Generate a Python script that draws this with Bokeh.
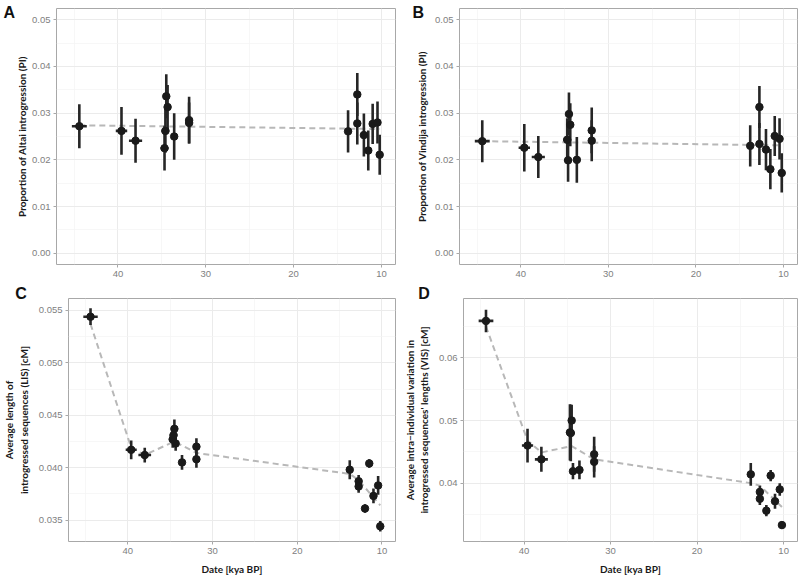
import numpy as np
from bokeh.plotting import figure
from bokeh.models import (Range1d, FixedTicker, PrintfTickFormatter, Label,
                          ColumnDataSource)
from bokeh.layouts import column, row
from bokeh.embed import file_html
from bokeh.resources import INLINE

# ---------------- data ----------------
dates = [44.4, 39.6, 38.0, 34.7, 34.6, 34.5, 34.35, 33.6, 31.9, 31.9,
         13.8, 12.75, 12.75, 12.0, 11.5, 11.0, 10.45, 10.2]
date_err = [0.85, 0.65, 0.75, 0.45, 0.45, 0.1, 0.1, 0.1, 0.1, 0.1,
            0.1, 0.1, 0.1, 0.1, 0.1, 0.1, 0.1, 0.1]

pi_altai = [0.0272, 0.0262, 0.0241, 0.0225, 0.0262, 0.0336, 0.0313, 0.0250,
            0.0285, 0.0279, 0.0261, 0.0340, 0.0278, 0.0253, 0.0220, 0.0277,
            0.0280, 0.0211]
pi_altai_err = [0.0047, 0.0051, 0.0047, 0.0048, 0.0047, 0.0047, 0.0047, 0.0050,
                0.0050, 0.0044, 0.0045, 0.0046, 0.0045, 0.0046, 0.0043, 0.0043,
                0.0045, 0.0043]

pi_vindija = [0.0240, 0.0226, 0.0206, 0.0243, 0.0199, 0.0298, 0.0275, 0.0200,
              0.0263, 0.0241, 0.0230, 0.0313, 0.0234, 0.0222, 0.0180, 0.0251,
              0.0245, 0.0172]
pi_vindija_err = [0.0045, 0.0051, 0.0045, 0.0046, 0.0046, 0.0046, 0.0046, 0.0049,
                  0.0049, 0.0044, 0.0044, 0.0045, 0.0045, 0.0044, 0.0043, 0.0043,
                  0.0044, 0.0042]

lis = [0.0544, 0.0417, 0.0412, 0.0427, 0.0431, 0.0437, 0.0423, 0.0405, 0.0420,
       0.0408, 0.0398, 0.0387, 0.0382, 0.0361, 0.0404, 0.0373, 0.0383, 0.0344]
lis_err = [0.0008, 0.0009, 0.0007, 0.0008, 0.0008, 0.0009, 0.0007, 0.0007,
           0.0008, 0.0008, 0.0009, 0.0006, 0.0006, 0.0004, 0.0004, 0.0007,
           0.0009, 0.0005]

vis = [0.0659, 0.0460, 0.0438, 0.0481, 0.0480, 0.0500, 0.0419, 0.0421, 0.0446,
       0.0434, 0.0414, 0.0386, 0.0375, 0.0356, 0.0412, 0.0371, 0.0390, 0.0333]
vis_err = [0.0018, 0.0027, 0.0020, 0.0045, 0.0045, 0.0025, 0.0013, 0.0015,
           0.0028, 0.0025, 0.0018, 0.0010, 0.0010, 0.0009, 0.0009, 0.0012,
           0.0010, 0.0006]

trend_x_flat = [44.4, 10.2]
trend_altai = [0.0274, 0.0266]
trend_vindija = [0.0240, 0.0231]
trend_x = [44.4, 39.6, 38.0, 34.5, 31.9, 13.8, 12.75, 10.2]
trend_lis = [0.0537, 0.0419, 0.0412, 0.0425, 0.0414, 0.0394, 0.0388, 0.0364]
trend_vis = [0.0650, 0.0468, 0.0449, 0.0459, 0.0438, 0.0400, 0.0396, 0.0362]

x_ticks = [10, 20, 30, 40]
x_minor = [15, 25, 35, 45]
X_LO, X_HI = 47.0, 8.4

TICK_FONT = "Liberation Sans"
LABEL_FONT = "Lato"
LETTER_FONT = "Liberation Sans"


def panel(vals, errs, tx, ty, yr, yticks, yminor, yfmt, ylabel, ystandoff,
          width, height, mb_left, mb_right, mb_top, mb_bottom, xlabel):
    p = figure(width=width, height=height, x_range=Range1d(X_LO, X_HI),
               y_range=Range1d(*yr), output_backend="svg",
               toolbar_location=None, min_border_left=mb_left,
               min_border_right=mb_right, min_border_top=mb_top,
               min_border_bottom=mb_bottom)
    p.background_fill_color = "white"
    p.border_fill_color = "white"
    p.outline_line_color = "#a8a8a8"
    p.outline_line_width = 1

    p.xaxis.ticker = FixedTicker(ticks=x_ticks, minor_ticks=x_minor)
    p.yaxis.ticker = FixedTicker(ticks=yticks, minor_ticks=yminor)
    p.yaxis.formatter = PrintfTickFormatter(format=yfmt)
    for ax in (p.xaxis, p.yaxis):
        ax.axis_line_color = None
        ax.major_tick_line_color = "#a8a8a8"
        ax.major_tick_out = 3
        ax.major_tick_in = 0
        ax.minor_tick_line_color = None
        ax.major_label_text_font = TICK_FONT
        ax.major_label_text_font_size = "9.5px"
        ax.major_label_text_color = "#808080"
        ax.major_label_standoff = 2
        ax.axis_label_text_font = LABEL_FONT
        ax.axis_label_text_font_style = "bold"
        ax.axis_label_text_font_size = "10px"
        ax.axis_label_text_color = "#1a1a1a"
    p.yaxis.axis_label = ylabel
    p.yaxis.axis_label_standoff = ystandoff
    if xlabel:
        p.xaxis.axis_label = xlabel
        p.xaxis.axis_label_standoff = 6
    for g in (p.xgrid, p.ygrid):
        g.grid_line_color = "#ebebeb"
        g.grid_line_width = 1
        g.minor_grid_line_color = "#f3f3f3"
        g.minor_grid_line_width = 0.7

    d = np.array(dates)
    de = np.array(date_err)
    v = np.array(vals)
    e = np.array(errs)
    src = ColumnDataSource(dict(x=d, y=v, xl=d - de, xh=d + de,
                                yl=v - e, yh=v + e))
    p.line(tx, ty, line_color="#b8b8b8", line_width=2, line_dash="6 4")
    p.segment(x0="x", y0="yl", x1="x", y1="yh", source=src,
              line_color="#262626", line_width=2.6)
    p.segment(x0="xl", y0="y", x1="xh", y1="y", source=src,
              line_color="#262626", line_width=2.6)
    p.scatter(x="x", y="y", source=src, size=7.5, fill_color="#1a1a1a",
              line_color="#1a1a1a")
    return p


def letter(p, text, place, width, height, mb_left, mb_right, mb_top, mb_bottom,
           yr, cx, cy):
    # panel letter, positioned in data units inside a border panel (not clipped)
    fw = width - mb_left - mb_right
    fh = height - mb_top - mb_bottom
    lx = X_LO + (mb_left - cx) * (X_LO - X_HI) / fw
    ly = yr[1] + (mb_top - cy) * (yr[1] - yr[0]) / fh
    p.add_layout(Label(x=lx, y=ly, text=text, text_font=LETTER_FONT,
                       text_font_style="bold", text_font_size="16px",
                       text_line_height=0.8,
                       text_color="#111111", text_baseline="top",
                       text_align="left"), place)


YR_PI = (-0.0024, 0.0524)
PI_TICKS = [0, 0.01, 0.02, 0.03, 0.04, 0.05]
PI_MINOR = [0.005, 0.015, 0.025, 0.035, 0.045]
YR_LIS = (0.03295, 0.05614)
YR_VIS = (0.03068, 0.06948)

A_GEOM = (400, 280, 56, 5, 8, 16)
B_GEOM = (400, 280, 59, 3, 8, 16)
C_GEOM = (400, 297, 58, 5, 18, 35)
D_GEOM = (400, 297, 58, 3, 18, 35)

pA = panel(pi_altai, pi_altai_err, trend_x_flat, trend_altai, YR_PI,
           PI_TICKS, PI_MINOR, "%.2f", "Proportion of Altai introgression (PI)",
           1, *A_GEOM, None)
letter(pA, "A", "left", *A_GEOM, YR_PI, 3, 3)

pB = panel(pi_vindija, pi_vindija_err, trend_x_flat, trend_vindija, YR_PI,
           PI_TICKS, PI_MINOR, "%.2f", "Proportion of Vindija introgression (PI)",
           4, *B_GEOM, None)
letter(pB, "B", "left", *B_GEOM, YR_PI, 12, 3)

pC = panel(lis, lis_err, trend_x, trend_lis, YR_LIS,
           [0.035, 0.040, 0.045, 0.050, 0.055],
           [0.0325, 0.0375, 0.0425, 0.0475, 0.0525], "%.3f",
           "Average length of\nintrogressed sequences (LIS) [cM]", 6,
           *C_GEOM, "Date [kya BP]")
letter(pC, "C", "above", *C_GEOM, YR_LIS, 3, 4)

pD = panel(vis, vis_err, trend_x, trend_vis, YR_VIS, [0.04, 0.05, 0.06],
           [0.035, 0.045, 0.055, 0.065], "%.2f",
           "Average intra\u2212individual variation in\nintrogressed sequences' lengths (VIS) [cM]",
           6, *D_GEOM, "Date [kya BP]")
letter(pD, "D", "above", *D_GEOM, YR_VIS, 12, 4)

layout = column(row(pA, pB), row(pC, pD))
open("out.html", "w").write(file_html(layout, INLINE))
